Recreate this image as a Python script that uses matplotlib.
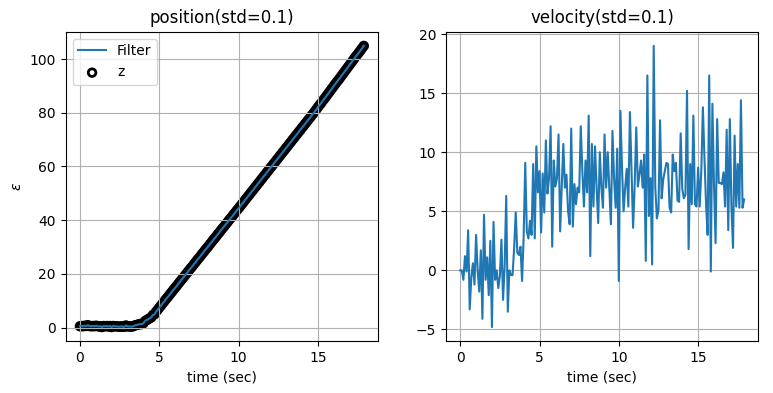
import numpy as np
import matplotlib
matplotlib.use("Agg")
import matplotlib.pyplot as plt

dt = 0.1

# velocity estimate, one value per 0.1 s
velocity = [
    0.0, 0.0, -0.8, 1.2, -0.1, 3.4, -3.3, -0.6, 0.6, -1.2,
    3.0, 0.0, -1.8, 1.7, -4.1, 4.7, -0.8, 1.1, -2.1, 2.5,
    -4.8, 4.1, -0.8, 0.0, -1.5, -0.5, 2.6, -2.5, 0.3, 6.3,
    -3.5, 0.0, -0.4, -0.4, 1.9, 4.9, 1.5, 1.3, 2.0, -0.9,
    2.9, 9.1, 3.3, 2.7, 4.2, 3.0, 9.0, 2.7, 10.5, 6.6,
    8.4, 3.2, 8.2, 4.9, 11.0, 6.5,
    7.8, 12.2, 2.0, 9.3, 7.1, 7.8, 11.5, 3.3, 7.1, 10.7,
    7.0, 8.1, 5.0, 3.9, 12.0, 3.7, 7.3, 5.6, 7.0, 6.6,
    12.2, 8.4, 5.4, 9.3, 6.6, 13.1, 1.2, 10.7, 5.4, 10.5,
    7.0, 4.0, 10.0, 7.0, 5.3, 11.5, 7.0, 10.0, 6.9, 3.9,
    11.8, 7.8, 5.3, 10.3, -0.9, 13.5, 8.7, 5.0, 7.0, 8.6,
    5.4, 13.4, 8.4, 3.6, 7.3, 12.1, 7.1, 8.1, 9.3, 7.0, 9.8,
    0.8, 16.5, 4.6, 7.8, 0.5, 19.0, 7.0, 4.4, 5.1, 12.7,
    6.1, 7.7, 8.4, 9.1, 9.0, 5.3, 4.9, 9.8, 8.4, 9.1,
    5.9, 5.8, 11.6, 6.9, 6.1, 6.4, 15.2, 1.8, 9.0, 5.6,
    13.1, 5.6, 5.4, 8.7, 5.4, 8.4, 13.8, 9.5, 5.6, 3.0,
    16.5, -0.1, 14.1, 7.3, 2.3, 12.8, 7.4, 7.4, 7.3, 8.3,
    5.4, 11.9, 3.4, 12.8, 5.4, 1.9, 11.4, 5.4, 9.0, 5.3,
    14.4, 5.3, 6.0,
]

# position (measurements z and filter output overlap at this scale)
position = [
    0.5, 0.6, 0.5, 0.7, 0.6, 0.9, 0.6, 0.5, 0.6, 0.5,
    0.7, 0.6, 0.4, 0.5, 0.2, 0.6, 0.5, 0.6, 0.4, 0.6,
    0.2, 0.6, 0.5, 0.5, 0.4, 0.3, 0.5, 0.3, 0.3, 0.8,
    0.5, 0.4, 0.4, 0.4, 0.6, 0.9, 1.0, 1.2, 1.3, 1.3,
    1.6, 2.4, 2.8, 3.1, 3.5, 3.8, 4.7, 4.9, 5.9, 6.6,
    7.4, 8.1, 8.9, 9.6, 10.4, 11.1, 11.8, 12.6, 13.3, 14.1,
    14.8, 15.5, 16.3, 17.0, 17.8, 18.5, 19.2, 20.0, 20.7, 21.5,
    22.2, 22.9, 23.7, 24.4, 25.2, 25.9, 26.6, 27.4, 28.1, 28.9,
    29.6, 30.3, 31.1, 31.8, 32.6, 33.3, 34.0, 34.8, 35.5, 36.3,
    37.0, 37.7, 38.5, 39.2, 40.0, 40.7, 41.4, 42.2, 42.9, 43.7,
    44.4, 45.1, 45.9, 46.6, 47.4, 48.1, 48.9, 49.6, 50.4, 51.1,
    51.9, 52.6, 53.4, 54.1, 54.9, 55.6, 56.4, 57.1, 57.9, 58.6,
    59.4, 60.1, 60.9, 61.6, 62.4, 63.1, 63.9, 64.6, 65.4, 66.1,
    66.9, 67.6, 68.4, 69.1, 69.9, 70.6, 71.4, 72.1, 72.9, 73.6,
    74.4, 75.1, 75.9, 76.6, 77.4, 78.1, 78.9, 79.6, 80.4, 81.2,
    82.0, 82.8, 83.5, 84.4, 85.1, 85.9, 86.7, 87.5, 88.3, 89.1,
    89.9, 90.7, 91.5, 92.2, 93.0, 93.8, 94.6, 95.4, 96.2, 97.0,
    97.8, 98.6, 99.4, 100.2, 101.0, 101.7, 102.5, 103.3, 104.1, 104.9,
]

t = np.arange(len(velocity)) * dt

fig = plt.figure(figsize=(7.73, 3.93), dpi=100)
ax1 = fig.add_axes([0.085, 0.132, 0.404, 0.787])
ax2 = fig.add_axes([0.577, 0.132, 0.404, 0.787])

ax1.plot(t, position, color='C0', label='Filter')
ax1.scatter(t, position, s=30, facecolor='none', edgecolor='k', lw=2, label='z')
ax1.set_title('position(std=0.1)')
ax1.set_xlabel('time (sec)')
ax1.set_ylabel(r'$\epsilon$')
ax1.legend(loc='upper left')
ax1.grid(True)

ax2.plot(t, velocity, color='C0')
ax2.set_title('velocity(std=0.1)')
ax2.set_xlabel('time (sec)')
ax2.grid(True)

fig.savefig('out.png', dpi=100)
